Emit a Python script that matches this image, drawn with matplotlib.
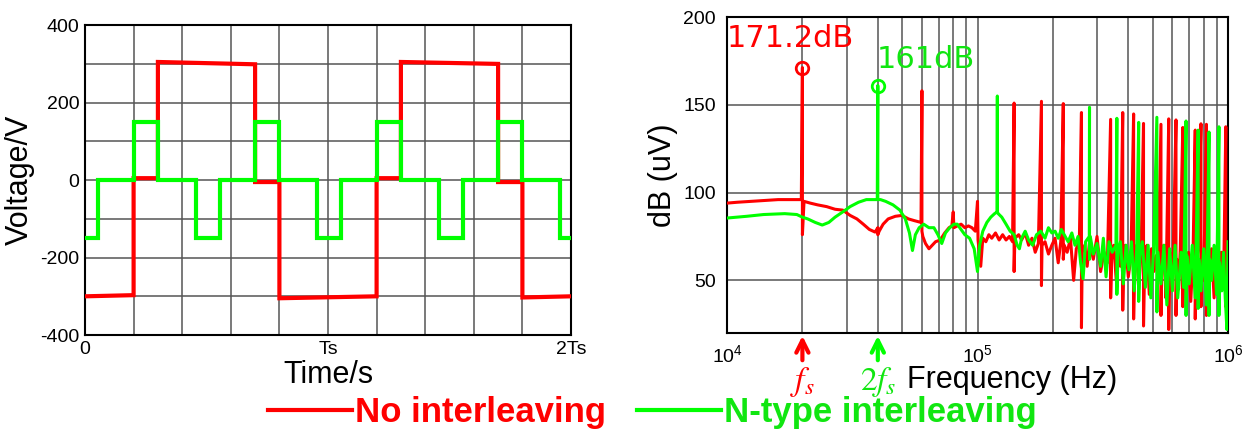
import matplotlib
matplotlib.use("Agg")
import matplotlib.pyplot as plt
from matplotlib.lines import Line2D

plt.rcParams['font.family'] = ['Liberation Sans', 'DejaVu Sans']
plt.rcParams['mathtext.fontset'] = 'stix'
plt.rcParams['axes.unicode_minus'] = False

RED = '#ff0000'
GREEN = '#00ff00'
GREEN_TXT = '#11e611'

# ---- time domain (time in units of Ts) ----
t_red = [0, 0.2, 0.2, 0.3, 0.3, 0.7, 0.7, 0.8, 0.8, 1.2, 1.2, 1.3, 1.3, 1.7, 1.7, 1.8, 1.8, 2.0]
v_red = [-300, -297, 5, 5, 305, 299, -5, -5, -305, -300, 5, 5, 305, 300, -5, -5, -303, -300]

green_edges = [0, 0.055, 0.2, 0.3, 0.455, 0.555, 0.7, 0.8, 0.955, 1.055,
               1.2, 1.3, 1.455, 1.555, 1.7, 1.8, 1.955, 2.0]
green_levels = [-150, 0, 150, 0, -150, 0, 150, 0, -150, 0, 150, 0, -150, 0, 150, 0, -150]

time_ticks = [0, 1, 2]
time_labels = ['0', 'Ts', '2Ts']

# ---- spectrum (frequency in kHz, level in dB) ----
red_f = [10, 11, 12.5, 14, 16, 18, 19.8, 20, 20, 20.3, 21.5, 23, 25, 27, 29, 31, 33, 35, 37, 39,
         40, 40, 40.5, 42, 44, 47, 50, 53, 56, 59.5, 60, 60, 60.5, 62, 64, 66, 68, 71, 74, 77,
         79, 80, 80.5, 83, 86, 89, 92, 95, 98, 100, 100.5, 103, 105, 108, 111, 114, 118, 122,
         126, 130, 134, 138, 140, 140, 141, 146, 150, 155, 160, 165, 170, 175, 180, 180, 181,
         186, 192, 198, 204, 210, 215, 220, 220, 222, 228, 235, 242, 248, 255, 260, 260, 262,
         268, 274, 280, 290, 300, 310, 320, 330, 340, 340, 343, 350, 358, 365, 372, 380, 380,
         383, 390, 400, 410, 420, 420, 424, 432, 440, 450, 460, 460, 465, 475, 485, 495, 505,
         515, 525, 540, 540, 545, 555, 565, 580, 580, 585, 595, 605, 620, 620, 625, 635, 645,
         660, 660, 665, 680, 695, 710, 725, 740, 740, 745, 760, 780, 780, 785, 800, 820, 820,
         825, 840, 860, 880, 900, 920, 940, 960, 980, 980, 990, 1000]
red_db = [94, 94.5, 95, 95.5, 96, 96, 96, 171.2, 76, 95, 94, 93, 92, 90.5, 90, 87, 85, 82, 79, 77.5,
          80, 76, 78, 82, 85, 86.5, 87, 85, 84, 83, 158, 78, 75, 71, 68, 70, 72, 73, 77, 80,
          81, 89, 80, 81, 82, 80, 81, 80, 78, 95, 73, 58, 74, 72, 76, 74, 77, 73,
          76, 73, 75, 72, 151, 55, 74, 76, 73, 77, 70, 74, 66, 71, 152, 47, 70,
          72, 65, 70, 74, 60, 72, 150.7, 62, 70, 66, 74, 50, 68, 72, 145.6, 23, 66,
          70, 58, 72, 62, 75, 55, 66, 60, 141.7, 40, 62, 70, 50, 66, 58, 145.6, 33,
          62, 70, 52, 64, 144.8, 28, 60, 70, 45, 66, 139.4, 24, 62, 70, 42, 68, 55,
          64, 50, 138.9, 30, 62, 70, 40, 142, 22, 66, 55, 68, 141.4, 30, 62, 45, 68,
          137.1, 35, 60, 50, 66, 38, 64, 135.6, 28, 58, 68, 139.2, 35, 62, 50, 138.9, 30,
          64, 45, 68, 40, 62, 55, 66, 48, 137.5, 35, 60, 55]

green_f = [10, 12, 14, 17, 19, 20, 21, 22.5, 24, 25.5, 27, 29, 31, 33.5, 36, 38, 39.8, 40, 40, 41,
           43, 46, 49, 51.5, 53.5, 55, 56.5, 58.5, 61, 64, 67, 69.5, 72, 74.5, 77.5, 80.5, 83,
           86, 89, 93, 97, 100, 102, 105, 109, 113, 117, 119.8, 120, 120, 121, 125, 130, 135,
           140, 144, 147, 150, 155, 160, 166, 172, 179, 186, 192, 198, 204, 210, 216, 222, 230,
           238, 245, 252, 258, 264, 270, 279.5, 280, 280, 282, 290, 300, 310, 318, 326, 335,
           345, 357, 360, 360, 364, 372, 382, 392, 402, 412, 422, 432, 440, 440, 445, 455, 468,
           480, 492, 505, 520, 520, 525, 540, 555, 570, 585, 600, 615, 630, 650, 665, 680, 680,
           685, 700, 720, 740, 760, 760, 765, 780, 800, 820, 840, 840, 845, 860, 880, 900, 920,
           920, 925, 945, 960, 975, 990, 1000]
green_db = [85.5, 86.5, 87.5, 88, 87.5, 86, 85, 83, 81.5, 83, 86, 89, 92, 94.5, 96, 96, 96, 161, 96, 96,
            95, 93, 90, 85, 77, 67, 76, 80, 82, 80, 80, 76, 71, 77, 80, 82, 82,
            79, 76, 74, 68, 55, 70, 78, 83, 86, 88, 89, 155, 89, 88, 86, 82, 78,
            76, 70, 68, 74, 78, 73, 70, 76, 78, 74, 80, 77, 78, 74, 79, 76, 72,
            77, 70, 75, 60, 51, 72, 75, 148.6, 62, 75, 65, 71, 58, 74, 52, 72,
            66, 70, 142.3, 42, 66, 72, 48, 70, 56, 72, 44, 68, 140, 38, 64, 72, 46,
            70, 40, 68, 142.9, 32, 66, 48, 70, 36, 68, 44, 70, 40, 66, 46, 140.8, 30,
            64, 48, 70, 40, 135.6, 34, 62, 44, 68, 36, 134.5, 30, 62, 50, 70, 42, 137.5,
            30, 60, 44, 66, 40, 22, 72]

peak_f = [20e3, 40e3]
peak_db = [171.2, 161]
peak_labels = ['171.2dB', '161dB']

fig = plt.figure(figsize=(12.5, 4.34), dpi=100)
ax1 = fig.add_axes([0.068, 0.228, 0.3888, 0.714])
ax2 = fig.add_axes([0.5816, 0.2327, 0.4008, 0.728])

# ---- left: voltage waveforms ----
ax1.plot(t_red, v_red, color=RED, lw=3, solid_joinstyle='miter', zorder=3)
ax1.stairs(green_levels, green_edges, baseline=None, color=GREEN, lw=3, zorder=4)
ax1.set_xlim(0, 2)
ax1.set_ylim(-400, 400)
ax1.set_xticks([i * 0.2 for i in range(11)], minor=True)
ax1.set_yticks(range(-400, 401, 100), minor=True)
ax1.set_xticks(time_ticks)
ax1.set_xticklabels(time_labels)
ax1.set_yticks([-400, -200, 0, 200, 400])
ax1.grid(which='both', color='#555555', lw=1.1)
ax1.tick_params(which='both', length=0, labelsize=14, pad=4)
ax1.set_xlabel('Time/s', fontsize=22, labelpad=2)
ax1.set_ylabel('Voltage/V', fontsize=22, labelpad=4)
for s in ax1.spines.values():
    s.set_linewidth(1.5)

# ---- right: spectrum ----
ax2.plot([f * 1e3 for f in red_f], red_db, color=RED, lw=2.2, zorder=3)
ax2.plot([f * 1e3 for f in green_f], green_db, color=GREEN, lw=2.2, zorder=4)
ax2.plot(peak_f[:1], peak_db[:1], 'o', mfc='none', mec=RED, ms=9, mew=2, zorder=5)
ax2.plot(peak_f[1:], peak_db[1:], 'o', mfc='none', mec=GREEN, ms=9, mew=2, zorder=5)
ax2.text(1.0e4, 188, peak_labels[0], color=RED, fontsize=22, va='center', ha='left',
         family='DejaVu Sans')
ax2.text(39.5e3, 176, peak_labels[1], color=GREEN_TXT, fontsize=22, va='center', ha='left',
         family='DejaVu Sans')
ax2.set_xscale('log')
ax2.set_xlim(1e4, 1e6)
ax2.set_ylim(20, 200)
ax2.set_yticks([50, 100, 150, 200])
ax2.grid(which='both', axis='x', color='#555555', lw=1.1)
ax2.grid(which='major', axis='y', color='#555555', lw=1.1)
ax2.tick_params(which='both', length=0, labelsize=14, pad=8)
ax2.set_ylabel('dB (uV)', fontsize=22, labelpad=4)
for s in ax2.spines.values():
    s.set_linewidth(1.5)

xt = ax2.get_xaxis_transform()
ax2.annotate('', xy=(peak_f[0], 0), xycoords=xt, xytext=(peak_f[0], -0.095), textcoords=xt,
             arrowprops=dict(arrowstyle='->', color=RED, lw=3, mutation_scale=22))
ax2.annotate('', xy=(peak_f[1], 0), xycoords=xt, xytext=(peak_f[1], -0.095), textcoords=xt,
             arrowprops=dict(arrowstyle='->', color=GREEN, lw=3, mutation_scale=22))
ax2.text(peak_f[0], -0.155, r'$f_s$', transform=xt, color=RED, fontsize=24, ha='center', va='center')
ax2.text(peak_f[1], -0.155, r'$2f_s$', transform=xt, color=GREEN_TXT, fontsize=24, ha='center', va='center')
ax2.text(0.36, -0.15, 'Frequency (Hz)', transform=ax2.transAxes, fontsize=22, ha='left', va='center')

handles = [Line2D([], [], color=RED, lw=3), Line2D([], [], color=GREEN, lw=3)]
leg = fig.legend(handles, ['No interleaving', 'N-type interleaving'], loc='center',
                 bbox_to_anchor=(0.522, 0.05), ncol=2, frameon=False, handlelength=2.4,
                 handletextpad=0.1, columnspacing=0.9,
                 prop={'size': 25, 'weight': 'bold'})
for txt, c in zip(leg.get_texts(), [RED, GREEN_TXT]):
    txt.set_color(c)

fig.savefig('out.png', dpi=100)
